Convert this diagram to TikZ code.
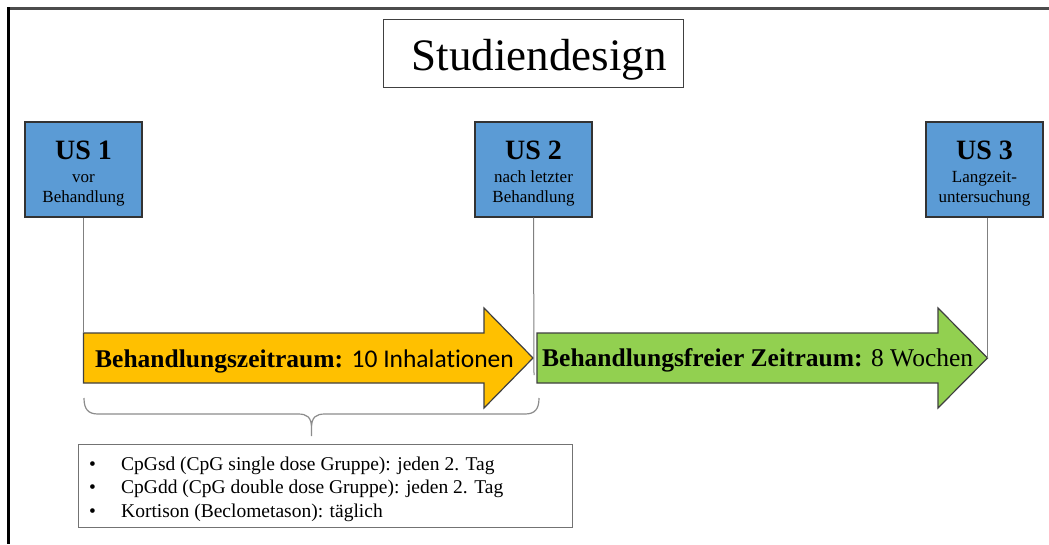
\documentclass[tikz,border=0pt]{standalone}
\usepackage{fontspec}
\setmainfont{Liberation Serif}
\newfontfamily\calibri[Ligatures=NoCommon]{Carlito}
\definecolor{usblue}{HTML}{5B9BD5}
\definecolor{barorange}{HTML}{FFC000}
\definecolor{bargreen}{HTML}{92D050}
\begin{document}
\begin{tikzpicture}[x=1pt,y=-1pt,
  usbox/.style={draw=black!80, line width=1.2pt, fill=usblue, minimum width=117pt, minimum height=95pt, inner sep=0pt},
  ustext/.style={align=center, inner sep=0pt, font=\fontsize{17}{19.5}\selectfont},
  titlebox/.style={draw=black!75, line width=1pt, minimum width=300pt, minimum height=68pt, inner sep=0pt},
  barline/.style={draw=black!75, line width=1.2pt},
  bartext/.style={anchor=base west, inner sep=0pt, font=\fontsize{25.5}{30}\selectfont},
  connector/.style={draw=black!50, line width=1pt},
  listbox/.style={draw=black!55, line width=1pt, minimum width=494pt, minimum height=83pt, inner sep=0pt},
  listitem/.style={anchor=base west, inner sep=0pt, font=\fontsize{19.5}{23.5}\selectfont}
]
\useasboundingbox (0,0) rectangle (1049,544);
\fill[white] (0,0) rectangle (1049,544);
% frame
\draw[line width=3pt, black!70] (9,8.5) -- (1049,8.5);
\draw[line width=2.5pt, black] (8.5,7) -- (8.5,544);
% title
\node[titlebox] (titlebox) at (533,53) {};
\node[anchor=base, inner sep=0pt, font=\fontsize{45}{45}\selectfont] (title) at (539,70) {Studiendesign};
% US boxes
\node[usbox] (us1) at (83.5,169.5) {};
\node[usbox] (us2) at (533.5,169.5) {};
\node[usbox] (us3) at (984.5,169.5) {};
\node[ustext] (us1t) at ([yshift=-4pt]us1.center) {{\fontsize{28}{28}\selectfont\bfseries US 1}\\[3.5pt]vor\\Behandlung};
\node[ustext] (us2t) at ([yshift=-4pt]us2.center) {{\fontsize{28}{28}\selectfont\bfseries US 2}\\[3.5pt]nach letzter\\Behandlung};
\node[ustext] (us3t) at ([yshift=-4pt]us3.center) {{\fontsize{28}{28}\selectfont\bfseries US 3}\\[3.5pt]Langzeit-\\untersuchung};
% arrows
\coordinate (orTL) at (83.5,333);
\coordinate (gap) at (534,375);
\coordinate (grTip) at (987.5,358);
\draw[barline, fill=barorange] (orTL) -- (484,333) -- (484,308) -- (533,358) -- (484,408) -- (484,383) -- (83.5,383) -- cycle;
\draw[barline, fill=bargreen] (537,333) -- (938,333) -- (938,308) -- (grTip) -- (938,408) -- (938,383) -- (537,383) -- cycle;
\node[bartext] (ortext) at (95,367) {\bfseries Behandlungszeitraum: \mdseries\calibri 10 Inhalationen};
\node[bartext] (grtext) at (542,366) {\bfseries Behandlungsfreier Zeitraum: \mdseries 8 Wochen};
% connectors
\draw[connector] (us1.south) -- (orTL);
\draw[connector] (us2.south) -- (gap);
\draw[connector] (us3.south -| grTip) -- (grTip);
% brace
\draw[draw=black!45, line width=1.2pt]
  (84,398) .. controls (84,409) and (88,414) .. (98,414) -- (298,414)
  .. controls (307,414) and (311.5,417) .. (311.5,428) -- (311.5,436)
  (311.5,428) .. controls (311.5,417) and (316,414) .. (325,414) -- (525,414)
  .. controls (535,414) and (539,409) .. (539,398);
% list
\node[listbox] (list) at (325,485.5) {};
\node[listitem] (item1) at (89,470) {\makebox[32pt][l]{\textbullet}CpGsd (CpG single dose Gruppe): jeden 2. Tag};
\node[listitem] (item2) at (89,493.5) {\makebox[32pt][l]{\textbullet}CpGdd (CpG double dose Gruppe): jeden 2. Tag};
\node[listitem] (item3) at (89,517) {\makebox[32pt][l]{\textbullet}Kortison (Beclometason): täglich};
\end{tikzpicture}
\end{document}
